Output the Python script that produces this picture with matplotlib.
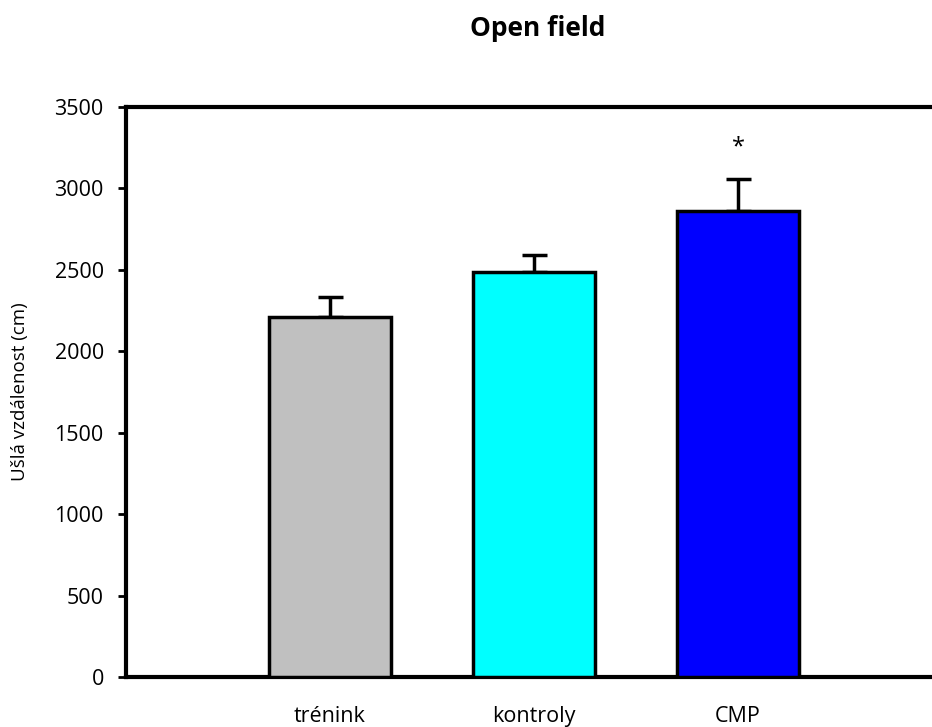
import matplotlib
matplotlib.use('Agg')
import matplotlib.pyplot as plt

# data
groups = ['trénink', 'kontroly', 'CMP']
means = [2210, 2485, 2860]
errors = [125, 105, 200]
colors = ['#C0C0C0', '#00FFFF', '#0000FF']
signif = ['', '', '*']

plt.rcParams['font.family'] = ['Open Sans', 'DejaVu Sans']

fig = plt.figure(figsize=(9.32, 7.27), dpi=100)
ax = fig.add_axes([126 / 932, 50 / 727, 816 / 932, 570 / 727])

pos = [1, 2, 3]
ax.bar(pos, means, width=0.6, color=colors, edgecolor='black', linewidth=2.5, zorder=3)
ax.errorbar(pos, means, yerr=[[0] * 3, errors], fmt='none', ecolor='black',
            elinewidth=2.5, capsize=9, capthick=2.5, zorder=2)

for p, m, e, s in zip(pos, means, errors, signif):
    if s:
        ax.text(p, m + e + 120, s, ha='center', va='bottom', fontsize=17)

ax.set_xlim(0, 4)
ax.set_ylim(0, 3500)
ax.set_yticks(range(0, 3501, 500))
ax.set_xticks(pos)
ax.set_xticklabels(groups, fontsize=15.5)
ax.tick_params(axis='y', direction='out', length=6, width=2, labelsize=15.5, pad=10)
ax.tick_params(axis='x', length=0, pad=21)

for side in ['left', 'bottom', 'top']:
    ax.spines[side].set_linewidth(3)
ax.spines['right'].set_visible(False)

ax.set_ylabel('Ušlá vzdálenost (cm)', fontsize=13.5, labelpad=18)
fig.text(538 / 932, 1 - 28 / 727, 'Open field', ha='center', va='center',
         fontsize=19, fontweight='bold')

fig.savefig('out.png', dpi=100)
